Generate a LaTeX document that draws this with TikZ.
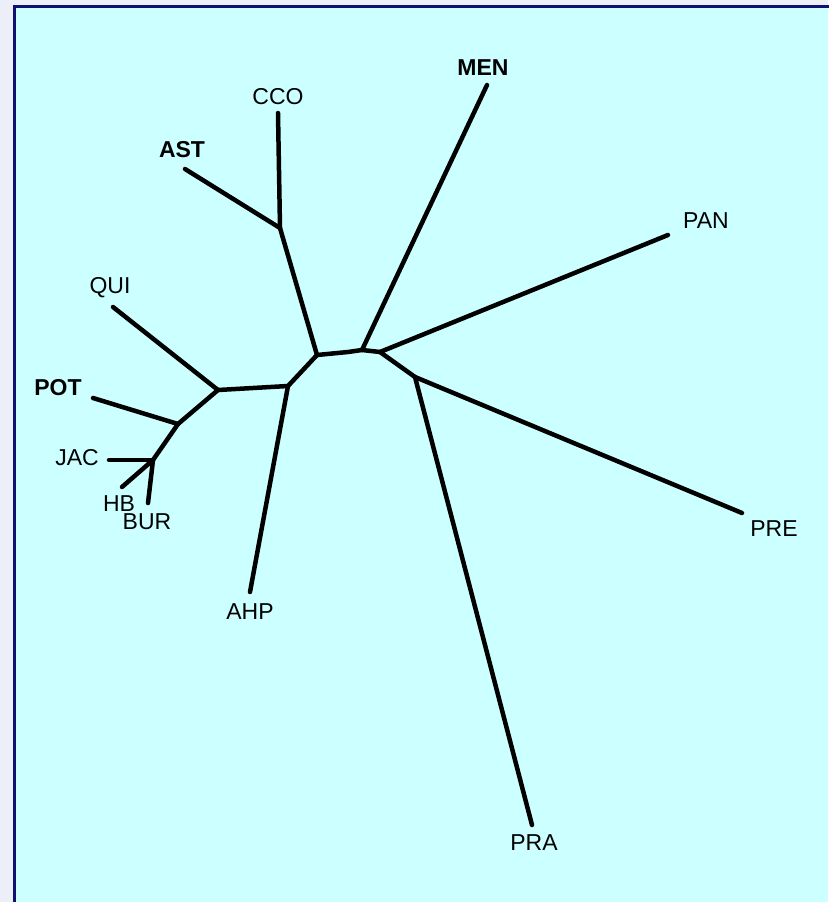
\documentclass[tikz,border=0pt]{standalone}
\usepackage{fontspec}
\setmainfont{Liberation Sans}
\definecolor{outerbg}{HTML}{EDEFF8}
\definecolor{panel}{HTML}{CCFFFF}
\definecolor{navy}{HTML}{101070}
\begin{document}
\begin{tikzpicture}[x=1pt,y=-1pt,
  branch/.style={line width=4.5pt,line cap=round,line join=round,black},
  lab/.style={font=\fontsize{23}{23}\selectfont,inner sep=0pt,anchor=center},
  blab/.style={lab,font=\fontsize{23}{23}\selectfont\bfseries}]
\useasboundingbox (0,0) rectangle (828,902);
\fill[outerbg] (0,0) rectangle (828,902);
\fill[panel] (14,6) rectangle (828,902);
\draw[navy,line width=3pt] (14,903) -- (14,6) -- (829,6);
% internal junctions
\coordinate (A) at (218,390);
\coordinate (AB) at (253,388);
\coordinate (B) at (288,386);
\coordinate (C) at (317,355);
\coordinate (C1) at (348,352);
\coordinate (G) at (362,350);
\coordinate (H) at (380,352);
\coordinate (I) at (415,377);
\coordinate (D) at (178,424);
\coordinate (E) at (153,460);
\coordinate (F) at (280,228);
% leaf ends
\coordinate (eQUI) at (113,307);
\coordinate (ePOT) at (93,398);
\coordinate (eJAC) at (109,460);
\coordinate (eHB) at (122,487);
\coordinate (eBUR) at (148,503);
\coordinate (eAHP) at (250,592);
\coordinate (eAST) at (185,169);
\coordinate (eCCO) at (278,113);
\coordinate (eMEN) at (487,85);
\coordinate (ePAN) at (668,235);
\coordinate (ePRE) at (742,513);
\coordinate (ePRA) at (532,825);
% branches
\draw[branch] (eQUI) -- (A);
\draw[branch] (A) -- (AB) -- (B);
\draw[branch] (B) -- (C);
\draw[branch] (C) -- (C1) -- (G) -- (H);
\draw[branch] (A) -- (D);
\draw[branch] (ePOT) -- (D);
\draw[branch] (D) -- (E);
\draw[branch] (eJAC) -- (E);
\draw[branch] (E) -- (eHB);
\draw[branch] (E) -- (eBUR);
\draw[branch] (B) -- (eAHP);
\draw[branch] (C) -- (F);
\draw[branch] (F) -- (eAST);
\draw[branch] (F) -- (eCCO);
\draw[branch] (G) -- (eMEN);
\draw[branch] (H) -- (ePAN);
\draw[branch] (H) -- (I);
\draw[branch] (I) -- (ePRE);
\draw[branch] (I) -- (ePRA);
% labels
\node[lab] (QUI) at (110,288) {QUI};
\node[blab] (POT) at (58,388) {POT};
\node[lab] (JAC) at (77,458) {JAC};
\node[lab] (HB) at (119,504) {HB};
\node[lab] (BUR) at (147,522) {BUR};
\node[lab] (AHP) at (250,612) {AHP};
\node[blab] (AST) at (182,150) {AST};
\node[lab] (CCO) at (278,97) {CCO};
\node[blab] (MEN) at (483,68) {MEN};
\node[lab] (PAN) at (706,221) {PAN};
\node[lab] (PRE) at (774,529) {PRE};
\node[lab] (PRA) at (534,843) {PRA};
\end{tikzpicture}
\end{document}
